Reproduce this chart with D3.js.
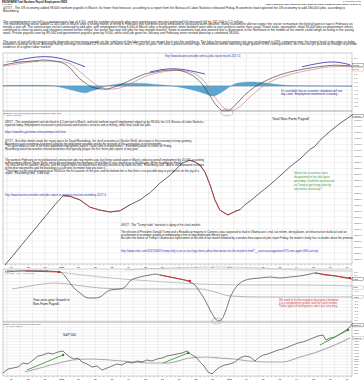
<!DOCTYPE html>
<html>
<head>
<meta charset="utf-8">
<script src="https://cdn.jsdelivr.net/npm/d3@7"></script>
<style>
  html, body { margin: 0; padding: 0; background: #fff; }
  svg { display: block; font-family: "Liberation Sans", Arial, sans-serif; }
</style>
</head>
<body>
<div id="chart"></div>
<script>
/*
  NONFARM PAYROLL vs S&P 500 - annotated chart
*/

// ---- data (decimal year, value) ----
const payroll = [[1996.62,121000],[1997.22,123000],[1997.81,125000],[1998.41,127000],[1999.0,129000],[1999.6,131000],
  [2000.08,132500],[2000.5,132400],[2001.09,131800],[2001.68,130600],[2002.28,130100],[2002.88,129800],[2003.47,130000],
  [2004.07,131000],[2004.66,131800],[2005.26,133000],[2005.86,134600],[2006.45,135900],[2007.17,137900],[2007.64,138400],
  [2007.94,138100],[2008.24,137600],[2008.54,136400],[2008.84,134300],[2009.13,131800],[2009.43,130100],[2009.91,129300],
  [2010.33,129900],[2010.63,130200],[2010.92,131000],[2011.22,131600],[2011.82,133000],[2012.41,134300],[2013.01,135800],
  [2013.6,137300],[2014.2,138600],[2014.8,140200],[2015.09,140700],[2015.39,141700],[2015.99,143200],[2016.58,144500],[2017.3,145900]];
const payrollRedSpans = [[2000.08, 2004.07], [2007.64, 2010.63]];

const momLine = [[1996.5,2.6],[1997.22,2.9],[1998.11,3.1],[1998.88,3.25],[1999.6,3.1],[2000.19,2.75],[2000.61,2.0],
  [2000.97,1.1],[2001.39,0.4],[2001.98,-0.25],[2002.58,-0.4],[2003.17,-0.1],[2003.77,0.4],[2004.37,1.0],[2004.96,1.5],
  [2005.56,1.75],[2006.15,1.95],[2006.75,2.0],[2007.35,1.75],[2007.94,1.1],[2008.42,0.1],[2008.84,-1.25],[2009.25,-2.5],
  [2009.61,-3.1],[2009.91,-3.1],[2010.33,-2.4],[2010.92,-1.1],[2011.52,-0.1],[2012.11,0.6],[2013.01,1.4],[2013.9,1.9],
  [2014.8,2.25],[2015.69,2.5],[2016.29,2.6],[2016.88,2.55],[2017.3,2.5]];
const momSignal = [[1996.5,2.5],[1997.51,2.8],[1998.7,3.1],[1999.6,3.1],[2000.37,2.9],[2000.91,2.1],[2001.39,1.25],
  [2001.98,0.25],[2002.76,-0.4],[2003.47,-0.25],[2004.07,0.25],[2004.66,0.9],[2005.26,1.4],[2005.98,1.75],[2006.93,1.95],
  [2007.64,1.75],[2008.24,1.1],[2008.72,0],[2009.13,-1.4],[2009.55,-2.5],[2010.03,-3.1],[2010.5,-2.75],[2011.1,-1.6],
  [2011.7,-0.5],[2012.41,0.5],[2013.31,1.25],[2014.2,1.75],[2015.09,2.1],[2015.99,2.4],[2016.88,2.45],[2017.3,2.4]];
const momHist = [[1996.5,0.05],[1998.11,0.1],[1999.3,0.05],[1999.6,0],[2000.02,-0.2],[2000.49,-0.45],[2000.97,-0.7],
  [2001.39,-0.85],[2001.8,-0.6],[2002.28,-0.3],[2002.76,0.05],[2003.17,0.2],[2003.77,0.3],[2004.37,0.35],[2004.96,0.3],
  [2005.56,0.2],[2006.15,0.1],[2006.57,0],[2007.05,-0.15],[2007.64,-0.4],[2008.24,-0.75],[2008.66,-1.05],[2009.01,-1.25],
  [2009.43,-0.9],[2009.79,-0.4],[2010.15,0.1],[2010.63,0.4],[2011.22,0.5],[2011.82,0.45],[2012.41,0.3],[2013.01,0.15],
  [2013.6,0.05],[2014.2,0.02],[2017.3,-0.02]];
const momArcs = [
  [[1997.1,3.1],[1999.3,3.65],[2001.39,2.4]],
  [[2005.26,1.75],[2006.75,2.15],[2008.54,1.5]],
  [[2014.32,2.4],[2015.99,3.0],[2017.18,2.65]]
];

const yoy = [[1996.62,2.46],[1997.81,2.62],[1999.0,2.62],[1999.9,2.46],[2000.19,1.85],[2000.49,0.77],[2000.79,-0.15],
  [2001.09,-0.77],[2001.57,-1.54],[2001.98,-1.54],[2002.28,-1.38],[2002.88,-0.31],[2003.47,-0.15],[2003.77,0.15],
  [2004.07,1.08],[2004.66,1.69],[2005.26,2.0],[2005.56,2.15],[2005.86,2.0],[2006.45,1.69],[2007.05,1.38],[2007.64,0.92],
  [2007.94,0.46],[2008.24,-0.62],[2008.54,-1.85],[2008.84,-3.38],[2009.13,-4.62],[2009.31,-5.08],[2009.55,-4.77],
  [2009.79,-3.38],[2010.03,-1.54],[2010.27,-0.31],[2010.63,0.77],[2011.22,1.38],[2011.82,1.54],[2012.41,1.69],
  [2013.01,1.54],[2013.6,1.69],[2014.2,1.85],[2014.8,2.15],[2015.09,2.31],[2015.69,2.0],[2016.29,1.85],[2016.88,1.54],[2017.3,1.38]];
const yoyMaLong = [[1997.04,-0.15],[1998.11,0.31],[1999.6,0.77],[2000.79,0.46],[2002.28,0],[2004.07,-0.15],[2008.24,-0.15],
  [2009.13,-0.62],[2010.03,-1.23],[2011.82,-1.38],[2017.3,-1.38]];
const yoyMaMid = [[1999.84,2.46],[2002.28,1.69],[2005.26,1.08],[2008.24,0.62],[2011.22,0.46],[2014.2,0.46],[2017.3,0.31]];
const yoyMaTop = [[2003.77,2.77],[2006.45,3.08],[2009.25,3.23],[2011.82,3.08],[2014.2,2.77],[2017.3,2.62]];
const yoyTrends = [
  [[1997.81,2.62],[1999.84,2.46]],
  [[2005.86,2.0],[2007.64,1.08]],
  [[2015.09,2.31],[2017.18,1.54]]
];

const spx = [[1996.5,705],[1996.8,844],[1997.1,879],[1997.39,914],[1997.69,1054],[1997.99,1019],[1998.29,1158],[1998.59,1298],
  [1998.88,1333],[1999.18,1403],[1999.48,1368],[1999.78,1438],[2000.08,1473],[2000.25,1368],[2000.49,1263],[2000.73,1193],
  [2000.97,1228],[2001.21,1089],[2001.51,1019],[2001.8,914],[2002.1,949],[2002.4,809],[2002.7,879],[2003.0,949],
  [2003.29,1019],[2003.59,984],[2003.89,1089],[2004.19,1054],[2004.49,1124],[2004.78,1089],[2005.08,1158],[2005.38,1124],
  [2005.68,1193],[2005.98,1228],[2006.27,1298],[2006.57,1333],[2006.87,1368],[2007.17,1403],[2007.47,1473],[2007.76,1333],
  [2008.0,1263],[2008.24,1089],[2008.48,949],[2008.72,740],[2008.96,670],[2009.19,809],[2009.43,914],[2009.73,984],
  [2010.03,1019],[2010.33,1089],[2010.62,1228],[2010.92,1298],[2011.22,1263],[2011.52,1124],[2011.7,1228],[2012.0,1333],
  [2012.29,1368],[2012.59,1438],[2012.89,1507],[2013.19,1542],[2013.48,1612],[2013.78,1682],[2014.08,1752],[2014.38,1787],
  [2014.68,1856],[2014.97,1926],[2015.27,1996],[2015.57,2031],[2015.75,1856],[2015.99,1926],[2016.28,1961],[2016.58,2066],
  [2016.88,2171],[2017.18,2310],[2017.3,2415]];
const spxMa = [[1997.81,740],[1998.7,879],[1999.6,1019],[2000.67,1158],[2001.68,1193],[2002.88,1158],[2004.25,1089],
  [2005.26,1054],[2006.27,1054],[2007.64,1228],[2008.66,1263],[2009.43,1228],[2010.21,1193],[2011.22,1124],[2012.23,1089],
  [2013.19,1089],[2014.2,1263],[2015.21,1438],[2016.28,1682],[2017.18,1926]];
const spxArrows = [
  [[1997.93,809],[2000.08,1333]],
  [[2006.04,1054],[2007.53,1403]],
  [[2015.39,1682],[2017.06,2205]]
];

const momTicks = d3.range(-3.5, 3.51, 0.5);
const payTicks = d3.range(121000, 146001, 1000);
const yoyTicks = d3.range(-5, 3.01, 0.5);
const spxTicks = d3.range(700, 2401, 100);
const yearTicks = d3.range(1997, 2018, 1);

// ---- notes: [y, text] ----
const topNotes = [
  [9.4, "4/7/17 - The US economy added 98,000 nonfarm payrolls in March, far fewer than forecast, according to a report from the Bureau of Labor Statistics released Friday. Economists had expected the US economy to add 180,000 jobs, according to Bloomberg."],
  [22.7, "The unemployment rate fell to a postrecession low of 4.5%, and the number of people who were working part time but preferred full-time work fell by 161,000 to 5.5 million."],
  [25.4, "The manufacturing sector added 11,000 jobs in March after a strong month of hiring in February that has been partly attributed to unusually warm weather. Many economists did not expect the sector to maintain the kind of gains it saw in February as mostly a one-off. The construction sector continued to add jobs, with employment rising 6,000 in March after a strong winter, when builders were able to start projects earlier than usual. Retail trade, meanwhile, shed 30,000 jobs as department stores continued to close locations and shoppers moved further online; the sector has now lost jobs for two straight months. Some economists had also warned that a snowstorm in the Northeast in the middle of the month could weigh on hiring in the survey week. Private payrolls rose by 89,000 and government payrolls grew by 9,000, while total job gains for January and February were revised down by a combined 38,000."],
  [42.7, "The pace of overall job creation partly depends on how many people on the sidelines of the labor market are drawn back into the workforce. The labor-force participation rate was unchanged at 63%, remaining near the lowest level in decades as baby boomers continue to retire. Average hourly earnings increased 0.2% month-on-month and 2.7% year-on-year, still near a postrecession high. Economists will be watching wage growth in the coming months, as it has not yet picked up enough to provide evidence of a tighter labor market."]
];
const payNotes = [
  [123.4, "4/8/17 - The unemployment rate declined to 4.5 percent in March, and total nonfarm payroll employment edged up by 98,000, the U.S. Bureau of Labor Statistics reported today. Employment increased in professional and business services and in mining, while retail trade lost jobs.", "#222"],
  [133.4, "https://www.bls.gov/news.release/empsit.nr0.htm", "#2b2bb8"],
  [142, "4/7/17 - But other details made the report worse for David Rosenberg, the chief economist at Gluskin Sheff, who expects the economy to keep growing. Rosenberg said economists had been lulled by the mild winter weather and by the strength of the survey data in recent months.", "#222"],
  [null, "\"This goes down as one of the more downbeat employment reports I have seen in many moons,\" Rosenberg wrote to clients on Friday.", "#222"],
  [null, "Rosenberg noted two weather-related distortions that typically plague the first three jobs reports of any year.", "#222"],
  [161, "The warmest February on record boosted construction jobs two months ago, but hiring cooled again in March, reducing overall employment by 10,000, according to Rosenberg. Winter Storm Stella, which blasted through the Northeast in mid-March, also shaved up to 30,000 jobs off the headline on Friday.", "#222"],
  [null, "\"So strip out all the weather impacts, and the payroll figure still would have missed consensus by about 60,000,\" Rosenberg said. \"Add in the downward revisions to the prior two months and the backdrop is a soft one, no matter how you slice it.\"", "#222"],
  [null, "\"There was no flat payroll expansion of 98,000 in the first quarter of the year, and the bottom line is that there is no possible way to put lipstick on this pig of a report,\" Rosenberg said. \"It did stop.\"", "#222"],
  [195.5, "http://www.businessinsider.com/jobs-report-economist-reaction-rosenberg-2017-4", "#2b2bb8"]
];
const trumpNotes = [
  [225.5, "4/6/17 - The \"Trump trade\" narrative is dying in the stock market.", "#222"],
  [233, "The election of President Donald Trump and a Republican majority in Congress was supposed to lead to Obamacare's end, tax reform, deregulation, an infrastructure build-out and an acceleration in economic growth accompanying a rise in long-depressed interest rates.", "#222"],
  [null, "But after the failure of Trump's Obamacare replacement at the end of last month followed by a weaker-than-expected jobs report Friday, the market clearly has its doubts about the premise.", "#222"],
  [252.3, "http://www.cnbc.com/2017/04/07/trump-rally-is-on-its-last-legs-heres-what-that-means-for-the-markets.html?__source=iosappshare%7Ccom.apple.UIKit.activity", "#2b2bb8"]
];

// ---- layout ----
const W = 364, H = 380;
const P = {
  mom: [53, 111],
  pay: [111, 264],
  yoy: [269, 322],
  spx: [322, 376]
};

const svg = d3.select('#chart').append('svg')
  .attr('width', W).attr('height', H)
  .attr('viewBox', `0 0 ${W} ${H}`);

const x = d3.scaleLinear().domain([1996.5, 2017.3]).range([3, 352]);
const yMom = d3.scaleLinear().domain([-4, 4]).range([118, 54]);
const yPay = d3.scaleLinear().domain([120500, 146400]).range([268, 112]);
const yYoy = d3.scaleLinear().domain([-5.5, 3]).range([323.75, 268.5]);
const ySpx = d3.scaleLinear().domain([600, 2450]).range([376, 323]);

const last = arr => arr[arr.length - 1][1];

// value boxes on the right axis, per panel
const boxes = {
  mom: [[yMom(last(momLine)) - 1.2, '2.512', '#333'], [yMom(last(momSignal)) + 2.6, '2.404', '#c9736f']],
  pay: [[yPay(last(payroll)) + 1.2, '145900', '#333']],
  yoy: [[yYoy(last(yoy)), '1.38', '#333'], [yYoy(last(yoyMaMid)) + 1.6, '0.31', '#999'], [yYoy(last(yoyMaLong)), '-1.38', '#999']],
  spx: [[ySpx(last(spx)) + 1.3, '2355.54', '#333'], [ySpx(last(spxMa)), '1926.11', '#999']]
};

// grid + frame for a panel
function panel(key, yScale, ticks, fmt) {
  const [top, bot] = P[key];
  const g = svg.append('g');
  g.append('g').selectAll('line').data(d3.range(1996.75, 2017.3, 0.75)).join('line')
    .attr('x1', d => x(d)).attr('x2', d => x(d))
    .attr('y1', top).attr('y2', bot)
    .attr('stroke', '#dedede').attr('stroke-width', 0.5);
  const inside = ticks.filter(t => yScale(t) > top + 1 && yScale(t) < bot - 1);
  g.append('g').selectAll('line').data(inside).join('line')
    .attr('x1', 3).attr('x2', 352)
    .attr('y1', d => yScale(d)).attr('y2', d => yScale(d))
    .attr('stroke', '#e2e2e2').attr('stroke-width', 0.5);
  const free = inside.filter(t => boxes[key].every(b => Math.abs(yScale(t) - b[0]) > 3.2));
  g.append('g').selectAll('text').data(free).join('text')
    .attr('x', 354).attr('y', d => yScale(d) + 0.8)
    .attr('font-size', 2.3).attr('fill', '#555')
    .text(fmt);
  g.append('rect').attr('x', 3).attr('y', top).attr('width', 349).attr('height', bot - top)
    .attr('fill', 'none').attr('stroke', '#9a9a9a').attr('stroke-width', 0.5);
  return g;
}

function drawBoxes(key) {
  boxes[key].forEach(([yPos, label, stroke]) => {
    svg.append('rect').attr('x', 352.5).attr('y', yPos - 1.6).attr('width', 11).attr('height', 3.2)
      .attr('fill', '#fff').attr('stroke', stroke).attr('stroke-width', 0.35);
    svg.append('text').attr('x', 353.2).attr('y', yPos + 0.8).attr('font-size', 2.3)
      .attr('fill', '#111').text(label);
  });
}

function xStrip(y) {
  const g = svg.append('g');
  g.append('g').selectAll('line').data(d3.range(1996.75, 2017.3, 0.25)).join('line')
    .attr('x1', d => x(d)).attr('x2', d => x(d))
    .attr('y1', y).attr('y2', y + 1)
    .attr('stroke', '#777').attr('stroke-width', 0.4);
  g.append('g').selectAll('text').data(yearTicks).join('text')
    .attr('x', d => x(d)).attr('y', y + 3.4)
    .attr('text-anchor', 'middle').attr('font-size', 2.3).attr('fill', '#444')
    .attr('font-weight', 'bold')
    .text(d => (d === 2000 || d === 2010) ? d : String(d).slice(2));
}

function legend(yPos, lines) {
  lines.forEach((s, i) => {
    svg.append('text').attr('x', 4).attr('y', yPos + i * 2.6)
      .attr('font-size', 2.1).attr('fill', '#555').text(s);
  });
}

function wrap(g, str, x0, y0, width, lh, size, color) {
  const words = str.split(/\s+/);
  let line = [];
  let yy = y0;
  let t = g.append('text').attr('x', x0).attr('y', yy).attr('font-size', size).attr('fill', color);
  for (const w of words) {
    line.push(w);
    t.text(line.join(' '));
    if (t.node().getComputedTextLength() > width && line.length > 1) {
      line.pop();
      t.text(line.join(' '));
      line = [w];
      yy += lh;
      t = g.append('text').attr('x', x0).attr('y', yy).attr('font-size', size).attr('fill', color).text(w);
    }
  }
  return yy + lh;
}

function noteBlock(notes, x0, width, lh, size) {
  const g = svg.append('g');
  let yy = 0;
  notes.forEach(([y0, s, c]) => { yy = wrap(g, s, x0, y0 === null ? yy : y0, width, lh, size, c); });
}

const lineOf = (ys, curve) => d3.line().x(d => x(d[0])).y(d => ys(d[1])).curve(curve || d3.curveLinear);

// ---- header ----
svg.append('text').attr('x', 2).attr('y', 2.6).attr('font-size', 2.6).attr('font-weight', 'bold')
  .attr('fill', '#111').text('$NONFARM Total Nonfarm Payroll Employment INDX');
svg.append('text').attr('x', 2).attr('y', 5.4).attr('font-size', 2.1).attr('fill', '#333').text('8-Apr-2017');
svg.append('text').attr('x', 361).attr('y', 2.4).attr('text-anchor', 'end').attr('font-size', 2.1)
  .attr('fill', '#333').text('@ StockCharts.com');
svg.append('text').attr('x', 361).attr('y', 5.2).attr('text-anchor', 'end').attr('font-size', 2.3)
  .attr('font-weight', 'bold').attr('fill', '#222')
  .text('Open 145900.00  High 145900.00  Low 145900.00  Close 145900.00  Chg +98.00 (+0.07%) ▲');

noteBlock(topNotes.map(d => [d[0], d[1], '#262626']), 3, 356, 2.7, 3.2);

// ---- panel 1: momentum ----
panel('mom', yMom, momTicks, d => d.toFixed(1));
svg.append('line').attr('x1', 3).attr('x2', 352).attr('y1', yMom(0)).attr('y2', yMom(0))
  .attr('stroke', '#8a8a8a').attr('stroke-width', 0.5);
svg.append('path').datum(momHist)
  .attr('d', d3.area().x(d => x(d[0])).y0(yMom(0)).y1(d => yMom(d[1])).curve(d3.curveMonotoneX))
  .attr('fill', '#5ba6d0').attr('stroke', '#3583b5').attr('stroke-width', 0.3);
svg.append('path').datum(momSignal).attr('d', lineOf(yMom, d3.curveMonotoneX))
  .attr('fill', 'none').attr('stroke', '#c9736f').attr('stroke-width', 0.6);
svg.append('path').datum(momLine).attr('d', lineOf(yMom, d3.curveMonotoneX))
  .attr('fill', 'none').attr('stroke', '#2a2a2a').attr('stroke-width', 0.6);
momArcs.forEach(a => {
  svg.append('path').datum(a).attr('d', lineOf(yMom, d3.curveNatural))
    .attr('fill', 'none').attr('stroke', '#4646b4').attr('stroke-width', 0.9);
});
svg.append('ellipse').attr('cx', x(2009.85)).attr('cy', yMom(-3.3)).attr('rx', 6).attr('ry', 3.5)
  .attr('fill', 'none').attr('stroke', '#666').attr('stroke-width', 0.4);
legend(61.5, ['— PPO(12,26,9) 2.512, 2.404, 0.108']);
svg.append('text').attr('x', 165).attr('y', 57).attr('font-size', 2.8).attr('fill', '#2b2bb8')
  .text('http://www.businessinsider.com/us-jobs-report-march-2017-4');
wrap(svg.append('g'), "It's inevitable that an economic slowdown will one day come. Employment momentum is waning.",
  281, 91.5, 66, 3.3, 2.8, '#2c2c90');
drawBoxes('mom');

// ---- panel 2: payroll ----
panel('pay', yPay, payTicks, d => d);
svg.append('path').datum(payroll).attr('d', lineOf(yPay))
  .attr('fill', 'none').attr('stroke', '#222').attr('stroke-width', 0.7);
payrollRedSpans.forEach(([a, b]) => {
  const seg = payroll.filter(d => d[0] >= a && d[0] <= b);
  svg.append('path').datum(seg).attr('d', lineOf(yPay))
    .attr('fill', 'none').attr('stroke', '#c0353a').attr('stroke-width', 0.7);
});
legend(113.5, ['■ $NONFARM Total Nonfarm Payroll Employment (EOD) INDX', '— Close 145900.00']);
svg.append('text').attr('x', 272).attr('y', 120).attr('font-size', 3.6).attr('fill', '#111')
  .text('Total Non-Farm Payroll');
drawBoxes('pay');
noteBlock(payNotes, 5, 200, 2.65, 2.8);
wrap(svg.append('g'), 'Seems the economists were disappointed in the jobs figure yesterday. Could this put pressure on Trump to get things done by any means necessary?',
  294, 173.5, 42, 4.1, 2.7, '#3b9a3b');
noteBlock(trumpNotes, 121, 236, 2.75, 2.8);

xStrip(264.5);

// ---- panel 3: y-o-y growth ----
panel('yoy', yYoy, yoyTicks, d => d.toFixed(1));
svg.append('path').datum(yoyMaTop).attr('d', lineOf(yYoy, d3.curveMonotoneX))
  .attr('fill', 'none').attr('stroke', '#c4c4c4').attr('stroke-width', 0.8);
svg.append('path').datum(yoyMaLong).attr('d', lineOf(yYoy, d3.curveMonotoneX))
  .attr('fill', 'none').attr('stroke', '#a4a4a4').attr('stroke-width', 0.8);
svg.append('path').datum(yoyMaMid).attr('d', lineOf(yYoy, d3.curveMonotoneX))
  .attr('fill', 'none').attr('stroke', '#b4b4b4').attr('stroke-width', 0.8);
svg.append('path').datum(yoy).attr('d', lineOf(yYoy, d3.curveMonotoneX))
  .attr('fill', 'none').attr('stroke', '#333').attr('stroke-width', 0.65);
yoyTrends.forEach(t => {
  svg.append('path').datum(t).attr('d', lineOf(yYoy))
    .attr('stroke', '#d42a2a').attr('stroke-width', 0.9).attr('fill', 'none');
  svg.append('circle').attr('cx', x(t[1][0])).attr('cy', yYoy(t[1][1])).attr('r', 1.2).attr('fill', '#d42a2a');
});
svg.append('ellipse').attr('cx', x(2009.25)).attr('cy', yYoy(-5.1)).attr('rx', 5).attr('ry', 3)
  .attr('fill', 'none').attr('stroke', '#777').attr('stroke-width', 0.4);
legend(271, ['— $NONFARM:$NONFARM (12-mo ROC) 1.38', '— MA(120) -1.38   — MA(60) 0.31']);
svg.append('text').attr('x', 33).attr('y', 301).attr('font-size', 3.3).attr('fill', '#111').text('Year-over-year Growth in');
svg.append('text').attr('x', 33).attr('y', 304.8).attr('font-size', 3.3).attr('fill', '#111').text('Non-Farm Payroll.');
wrap(svg.append('g'), "We need to fix the negative divergence between y-o-y employment growth and the stock market. These types of divergences don't last very long.",
  279, 300.5, 66, 3.3, 2.8, '#c43b3b');
drawBoxes('yoy');

// ---- panel 4: S&P 500 ----
panel('spx', ySpx, spxTicks, d => d);
svg.append('path').datum(spxMa).attr('d', lineOf(ySpx, d3.curveMonotoneX))
  .attr('fill', 'none').attr('stroke', '#ababab').attr('stroke-width', 1.1);
svg.append('path').datum(spx).attr('d', lineOf(ySpx))
  .attr('fill', 'none').attr('stroke', '#333').attr('stroke-width', 0.65);
spxArrows.forEach(a => {
  svg.append('path').datum(a).attr('d', lineOf(ySpx))
    .attr('stroke', '#3c9c3c').attr('stroke-width', 0.9).attr('fill', 'none');
  svg.append('circle').attr('cx', x(a[1][0])).attr('cy', ySpx(a[1][1])).attr('r', 1.2).attr('fill', '#2f8a2f');
});
legend(324.5, ['■ $SPX S&P 500 Large Cap Index INDX', '— MA(200) 1926.11']);
svg.append('text').attr('x', 63).attr('y', 336).attr('font-size', 3.3).attr('fill', '#111').text('S&P 500');
drawBoxes('spx');

xStrip(376.2);
</script>
</body>
</html>
